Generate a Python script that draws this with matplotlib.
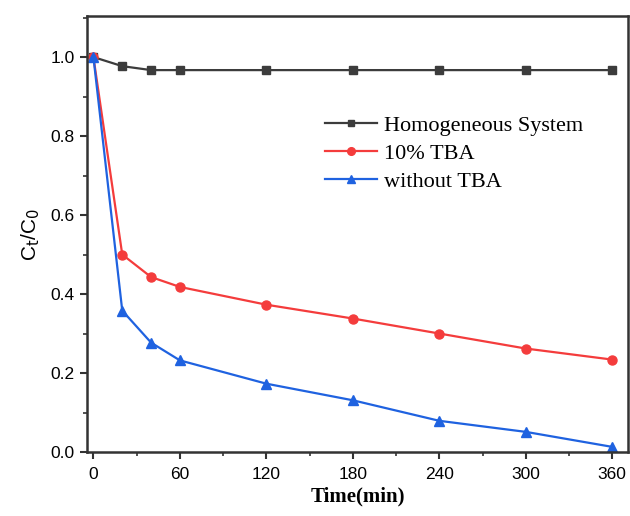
import matplotlib
matplotlib.use("Agg")
import matplotlib.pyplot as plt
from matplotlib.ticker import MultipleLocator

time_min = [0, 20, 40, 60, 120, 180, 240, 300, 360]
homogeneous = [1.0, 0.977, 0.967, 0.967, 0.967, 0.967, 0.967, 0.967, 0.967]
tba_10 = [1.0, 0.50, 0.443, 0.418, 0.373, 0.338, 0.300, 0.262, 0.234]
without_tba = [1.0, 0.358, 0.277, 0.232, 0.173, 0.131, 0.079, 0.051, 0.013]

labels = ["Homogeneous System", "10% TBA", "without TBA"]
colors = ["#3c3c3c", "#f43c3c", "#1f62e0"]
markers = ["s", "o", "^"]
marker_sizes = [5.5, 6.5, 7]

fig = plt.figure(figsize=(6.3, 5.16), dpi=100)
ax = fig.add_axes([0.138, 0.124, 0.859, 0.845])

for ys, lab, c, m, ms in zip([homogeneous, tba_10, without_tba], labels, colors, markers, marker_sizes):
    ax.plot(time_min, ys, color=c, marker=m, markersize=ms, linewidth=1.6, label=lab)

ax.set_xlim(-4.5, 371)
ax.set_ylim(0, 1.104)
ax.set_xticks([0, 60, 120, 180, 240, 300, 360])
ax.xaxis.set_minor_locator(MultipleLocator(30))
ax.set_yticks([0.0, 0.2, 0.4, 0.6, 0.8, 1.0])
ax.yaxis.set_minor_locator(MultipleLocator(0.1))
ax.set_yticklabels(["0.0", "0.2", "0.4", "0.6", "0.8", "1.0"])

for lbl in ax.get_xticklabels() + ax.get_yticklabels():
    lbl.set_fontfamily("Liberation Sans")
    lbl.set_fontsize(12.5)

ax.tick_params(which="major", direction="out", length=5, width=1.5, color="#333333")
ax.tick_params(axis="x", which="major", pad=6)
ax.tick_params(axis="y", which="major", pad=4)
ax.tick_params(which="minor", direction="out", length=3, width=1.2, color="#333333")
for sp in ax.spines.values():
    sp.set_linewidth(1.8)
    sp.set_color("#333333")

ax.set_xlabel("Time(min)", fontfamily="Liberation Serif", fontweight="bold", fontsize=15, labelpad=3)
ax.set_ylabel(r"C$_\mathrm{t}$/C$_\mathrm{0}$", fontfamily="Liberation Sans", fontsize=15, labelpad=6)

ax.legend(loc="upper left", bbox_to_anchor=(0.44, 0.772), frameon=False,
          borderaxespad=0, borderpad=0,
          prop={"family": "Liberation Serif", "size": 16}, handlelength=2.35,
          markerscale=0.85, labelspacing=0.33, handletextpad=0.3)

fig.savefig("out.png", dpi=100, facecolor="white")
